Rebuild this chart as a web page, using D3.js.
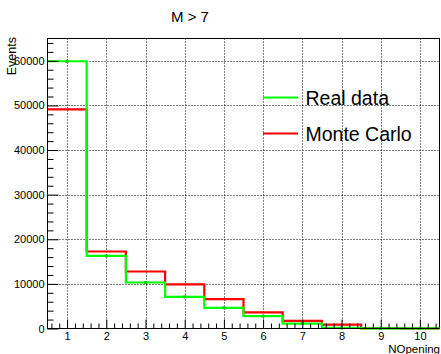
<!DOCTYPE html>
<html>
<head>
<meta charset="utf-8">
<script src="https://cdn.jsdelivr.net/npm/d3@7"></script>
<style>
  html, body { margin: 0; padding: 0; background: #fff; }
  svg { display: block; font-family: "Liberation Sans", Arial, sans-serif; }
</style>
</head>
<body>
<svg id="chart" width="441" height="354"></svg>
<script>
// Bin centres of the NOpening histogram (unit-wide bins from 0.5 to 10.5)
const bins = [1, 2, 3, 4, 5, 6, 7, 8, 9, 10];
// Event counts per bin
const realData   = [59900, 16280, 10310, 7100, 4640, 2780, 1100, 120, 40, 10];
const monteCarlo = [49120, 17260, 12780, 9870, 6600, 3620, 1720, 860, 90, 20];
// Axis tick values
const xMajorTicks = [1, 2, 3, 4, 5, 6, 7, 8, 9, 10];
const yMajorTicks = [0, 10000, 20000, 30000, 40000, 50000, 60000];
const legendLabels = ["Real data", "Monte Carlo"];
const titleText = "M > 7";
const xTitle = "NOpening";
const yTitle = "Events";

const W = 441, H = 354;
const frame = { left: 47.5, right: 439.5, top: 38.5, bottom: 328.5 };
const colors = { real: "#00ff00", mc: "#ff0000" };

const svg = d3.select("#chart");

const x = d3.scaleLinear().domain([0.5, 10.5]).range([frame.left, frame.right]);
const y = d3.scaleLinear().domain([0, 65000]).range([frame.bottom, frame.top]);

// minor ticks: every 0.2 on x, every 2000 on y
const xMinor = d3.range(0.6, 10.5, 0.2).map(v => Math.round(v * 10) / 10)
  .filter(v => Math.abs(v - Math.round(v)) > 1e-6);
const yMinor = d3.range(2000, 65000, 2000).filter(v => v % 10000 !== 0);

// dotted grid at the major ticks
const grid = svg.append("g")
  .attr("stroke", "#000")
  .attr("stroke-width", 1)
  .attr("stroke-dasharray", "1,2");
grid.selectAll("line.gx").data(xMajorTicks).join("line")
  .attr("class", "gx")
  .attr("x1", d => Math.round(x(d)) + 0.5).attr("x2", d => Math.round(x(d)) + 0.5)
  .attr("y1", frame.top).attr("y2", frame.bottom);
grid.selectAll("line.gy").data(yMajorTicks.filter(d => d > 0)).join("line")
  .attr("class", "gy")
  .attr("y1", d => Math.round(y(d)) + 0.5).attr("y2", d => Math.round(y(d)) + 0.5)
  .attr("x1", frame.left).attr("x2", frame.right);

// frame
svg.append("rect")
  .attr("x", frame.left).attr("y", frame.top)
  .attr("width", frame.right - frame.left).attr("height", frame.bottom - frame.top)
  .attr("fill", "none").attr("stroke", "#000").attr("stroke-width", 1);

// histogram step outlines
function stepPath(values) {
  const pts = bins.map((b, i) => [x(b - 0.5), y(values[i])]);
  pts.push([x(bins[bins.length - 1] + 0.5), y(values[values.length - 1])]);
  return d3.line().curve(d3.curveStepAfter)(pts);
}

svg.append("path")
  .attr("d", stepPath(monteCarlo))
  .attr("fill", "none").attr("stroke", colors.mc).attr("stroke-width", 2.2);

svg.append("path")
  .attr("d", stepPath(realData))
  .attr("fill", "none").attr("stroke", colors.real).attr("stroke-width", 2.2);

// small markers at the data bin centres
svg.append("g").selectAll("rect").data(bins).join("rect")
  .attr("x", (d) => x(d) - 1.5)
  .attr("y", (d, i) => y(realData[i]) - 1.5)
  .attr("width", 3).attr("height", 3)
  .attr("fill", "#00d000");

// axes: ticks point into the frame
const fontSize = 11;
const yAxis = svg.append("g").attr("transform", `translate(${frame.left},0)`)
  .call(d3.axisLeft(y).tickValues(yMajorTicks).tickSize(-11).tickPadding(3).tickFormat(d3.format("d")));
svg.append("g").attr("transform", `translate(${frame.left},0)`)
  .call(d3.axisLeft(y).tickValues(yMinor).tickSize(-6).tickFormat(""));

const xAxis = svg.append("g").attr("transform", `translate(0,${frame.bottom})`)
  .call(d3.axisBottom(x).tickValues(xMajorTicks).tickSize(-9).tickPadding(4).tickFormat(d3.format("d")));
svg.append("g").attr("transform", `translate(0,${frame.bottom})`)
  .call(d3.axisBottom(x).tickValues(xMinor).tickSize(-5).tickFormat(""));

svg.selectAll(".domain").remove();
svg.selectAll(".tick line").attr("stroke", "#000");
svg.selectAll(".tick text")
  .attr("fill", "#000")
  .style("font-size", fontSize + "px")
  .style("font-family", "'Liberation Sans', Arial, sans-serif");

// redraw left and bottom axis lines on top
svg.append("line").attr("x1", frame.left).attr("x2", frame.left)
  .attr("y1", frame.top).attr("y2", frame.bottom).attr("stroke", "#000");
svg.append("line").attr("x1", frame.left).attr("x2", frame.right)
  .attr("y1", frame.bottom).attr("y2", frame.bottom).attr("stroke", "#000");

// title
svg.append("text")
  .attr("x", 190).attr("y", 21.5)
  .attr("text-anchor", "middle")
  .style("font-size", "15px")
  .text(titleText);

// axis titles
svg.append("text")
  .attr("transform", `translate(16,37) rotate(-90)`)
  .attr("text-anchor", "end")
  .style("font-size", "12.5px")
  .text(yTitle);

svg.append("text")
  .attr("x", 440).attr("y", 352.5)
  .attr("text-anchor", "end")
  .style("font-size", "11.5px")
  .text(xTitle);

// legend
const legend = svg.append("g");
const legendItems = [
  { label: legendLabels[0], color: colors.real, y: 97.5 },
  { label: legendLabels[1], color: colors.mc, y: 133.5 }
];
legendItems.forEach(it => {
  legend.append("line")
    .attr("x1", 263).attr("x2", 298)
    .attr("y1", it.y).attr("y2", it.y)
    .attr("stroke", it.color).attr("stroke-width", 2.2);
  legend.append("text")
    .attr("x", 305.5).attr("y", it.y + 7)
    .style("font-size", "19.5px")
    .text(it.label);
});
</script>
</body>
</html>
